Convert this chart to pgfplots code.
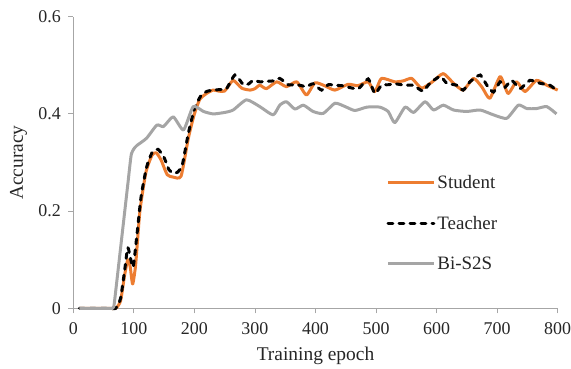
\documentclass[border=0pt]{standalone}
\usepackage{fontspec}
\setmainfont{Liberation Serif}
\usepackage{pgfplots}
\pgfplotsset{compat=1.18}
\definecolor{sorange}{HTML}{ED7D31}
\definecolor{bgrey}{HTML}{A5A5A5}
\definecolor{axgrey}{HTML}{A6A6A6}
\definecolor{txt}{HTML}{262626}
\begin{document}
\begin{tikzpicture}
\begin{axis}[
  scale only axis,
  width=484.4bp, height=291.6bp,
  xmin=0, xmax=800, ymin=0, ymax=0.6,
  xtick={0,100,...,800},
  ytick={0,0.2,0.4,0.6},
  axis x line*=bottom, axis y line*=left,
  axis line style={draw=axgrey, line width=0.9pt, -},
  tick style={draw=axgrey, line width=0.9pt},
  tick align=outside, major tick length=5bp,
  /pgf/number format/assume math mode=true,
  /pgf/number format/fixed,
  xticklabel={\pgfmathprintnumber{\tick}},
  yticklabel={\pgfmathprintnumber{\tick}},
  tick label style={font=\rmfamily\fontsize{18}{21}\selectfont, text=txt},
  xticklabel style={yshift=-6bp},
  yticklabel style={xshift=-4bp},
  xlabel={Training epoch}, ylabel={Accuracy},
  label style={font=\rmfamily\fontsize{19.5}{23}\selectfont, text=txt},
  xlabel style={at={(axis description cs:0.5,-0.162)}, anchor=center},
  ylabel style={at={(axis description cs:-0.113,0.5)}, anchor=center},
  clip=false,
  legend style={draw=none, fill=none, at={(0.64,0.47)}, anchor=north west,
    font=\rmfamily\fontsize{19}{22}\selectfont, text=txt, row sep=22bp,
    /tikz/every even column/.append style={column sep=2bp}},
  legend cell align=left,
  legend image code/.code={\draw[#1] (0bp,0bp) -- (46bp,0bp);},
  every axis plot/.append style={line width=3pt, smooth, tension=0.35},
]
\addplot[sorange, line join=round] coordinates {
(10,0)(20,0)(30,0)(40,0)(50,0)(60,0)(70,0)(78,0.015)(85,0.07)(90,0.10)(94,0.085)(98,0.05)(103,0.09)(110,0.2)(120,0.28)(130,0.315)(137,0.32)(145,0.305)(155,0.275)(165,0.27)(178,0.272)(190,0.35)(200,0.40)(209,0.43)(220,0.442)(231,0.449)(240,0.447)(250,0.447)(264,0.469)(278,0.453)(292,0.449)(300,0.452)(308,0.459)(319,0.452)(336,0.466)(352,0.456)(369,0.466)(385,0.439)(399,0.464)(415,0.458)(432,0.449)(454,0.461)(470,0.458)(487,0.466)(498,0.446)(509,0.473)(531,0.466)(545,0.468)(559,0.473)(575,0.453)(592,0.465)(611,0.483)(628,0.463)(644,0.449)(661,0.473)(675,0.455)(688,0.432)(705,0.477)(718,0.442)(732,0.466)(746,0.446)(765,0.469)(782,0.459)(800,0.449)
};
\addlegendentry{Student}
\addplot[black, dash pattern=on 5bp off 6bp, line cap=round] coordinates {
(10,0)(20,0)(30,0)(40,0)(50,0)(60,0)(70,0)(78,0.02)(85,0.08)(90,0.125)(95,0.10)(99,0.085)(105,0.15)(112,0.23)(121,0.29)(130,0.32)(140,0.327)(150,0.31)(158,0.285)(165,0.278)(172,0.28)(180,0.295)(190,0.36)(200,0.41)(210,0.436)(220,0.446)(231,0.449)(242,0.45)(253,0.452)(267,0.48)(281,0.46)(290,0.462)(297,0.469)(308,0.466)(319,0.467)(330,0.468)(341,0.473)(355,0.46)(364,0.46)(374,0.459)(385,0.456)(396,0.462)(410,0.449)(421,0.46)(432,0.459)(444,0.458)(454,0.455)(471,0.452)(487,0.472)(498,0.442)(509,0.459)(520,0.46)(531,0.462)(542,0.46)(553,0.459)(561,0.459)(570,0.452)(578,0.447)(589,0.463)(606,0.477)(617,0.463)(633,0.459)(644,0.449)(655,0.466)(672,0.48)(683,0.459)(694,0.445)(705,0.466)(713,0.455)(724,0.469)(738,0.452)(754,0.469)(771,0.463)(787,0.459)(798,0.449)
};
\addlegendentry{Teacher}
\addplot[bgrey, line join=round] coordinates {
(10,0)(20,0)(30,0)(40,0)(50,0)(60,0)(65,0)(67,0.004)(70,0.035)(80,0.145)(90,0.255)(94,0.30)(96,0.318)(100,0.328)(105,0.335)(121,0.35)(138,0.377)(149,0.374)(165,0.394)(182,0.367)(198,0.415)(215,0.405)(231,0.40)(250,0.403)(264,0.408)(286,0.429)(308,0.415)(330,0.398)(341,0.418)(352,0.425)(366,0.41)(380,0.418)(396,0.405)(413,0.401)(432,0.422)(449,0.415)(465,0.407)(485,0.414)(506,0.414)(520,0.405)(531,0.382)(548,0.414)(562,0.403)(581,0.425)(595,0.408)(611,0.418)(628,0.408)(650,0.405)(672,0.408)(694,0.398)(716,0.391)(735,0.418)(749,0.411)(765,0.411)(782,0.415)(798,0.40)
};
\addlegendentry{Bi-S2S}
\end{axis}
\pgfresetboundingbox
\path (-73.3bp,-60.7bp) rectangle (497.7bp,308.3bp);
\end{tikzpicture}
\end{document}
